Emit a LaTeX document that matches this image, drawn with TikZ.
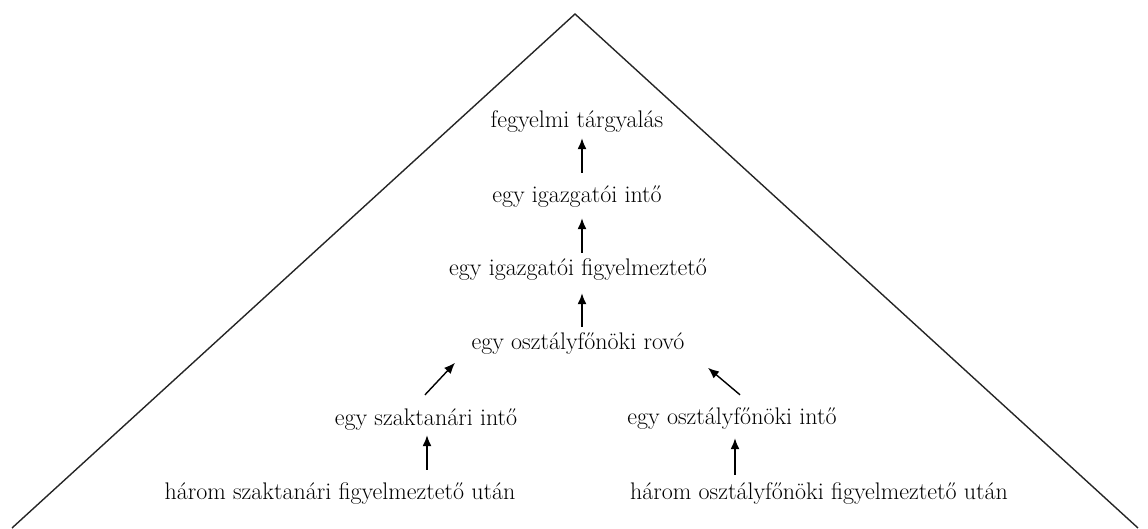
\documentclass[tikz,border=0pt]{standalone}
\usepackage{fontspec}
\usetikzlibrary{arrows.meta,calc}
\tikzset{
  lbl/.style={inner sep=0pt, text height=16pt, text depth=5pt, font=\fontsize{24}{27}\selectfont},
  arr/.style={line width=1.4pt, -{Latex[length=11pt,width=9pt]}},
  side/.style={line width=1.4pt, draw=black!85}
}
\begin{document}
\begin{tikzpicture}[x=1pt,y=1pt]
\useasboundingbox (0,-528) rectangle (1148,0);
% pyramid outline
\coordinate (bl) at (12,-528);
\coordinate (apex) at (575,-14);
\coordinate (br) at (1138,-528);
\draw[side] (bl) -- (apex) -- (br);
% labels
\node[lbl] (t1) at (577,-122) {fegyelmi tárgyalás};
\node[lbl] (t2) at (577,-197) {egy igazgatói intő};
\node[lbl] (t3) at (578,-270) {egy igazgatói figyelmeztető};
\node[lbl] (t4) at (578,-344) {egy osztályfőnöki rovó};
\node[lbl] (t5) at (426,-420) {egy szaktanári intő};
\node[lbl] (t6) at (732,-419) {egy osztályfőnöki intő};
\node[lbl] (t7) at (340,-494) {három szaktanári figyelmeztető után};
\node[lbl] (t8) at (819,-494) {három osztályfőnöki figyelmeztető után};
% arrows
\draw[arr] ($(t2.north)+(5,13.5)$) -- ($(t1.south)+(5,-5.5)$);
\draw[arr] ($(t3.north)+(4,6.5)$) -- ($(t2.south)+(5,-10.5)$);
\draw[arr] ($(t4.north)+(4,6.5)$) -- ($(t3.south)+(4,-12.5)$);
\draw[arr] ($(t5.north)+(-1,14.5)$) -- ($(t5.north)+(29,46.5)$);
\draw[arr] ($(t6.north)+(8,13.5)$) -- ($(t6.north)+(-24,40.5)$);
\draw[arr] ($(t7.north)+(87,13.5)$) -- ($(t5.south)+(1,-4.5)$);
\draw[arr] ($(t8.north)+(-84,8.5)$) -- ($(t6.south)+(3,-8.5)$);
\end{tikzpicture}
\end{document}
